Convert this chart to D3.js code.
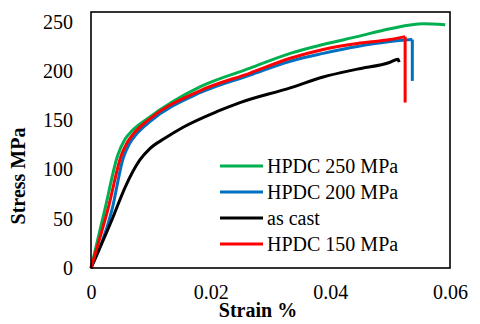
<!DOCTYPE html>
<html>
<head>
<meta charset="utf-8">
<script src="https://cdn.jsdelivr.net/npm/d3@7"></script>
</head>
<body style="margin:0">
<script>
const width = 480, height = 324;
const margin = { top: 12, right: 30, bottom: 56, left: 91 };
const serif = '"Liberation Serif", "Times New Roman", Times, "DejaVu Serif", serif';

// strain, stress pairs
const hpdc250 = [[0,0],[0.0023,59],[0.0045,115],[0.0057,131],[0.0068,139],[0.0095,152],[0.0182,184],[0.0266,203],[0.0333,218],[0.0388,227],[0.0445,235],[0.05,243],[0.0555,248],[0.0592,247]];
const hpdc200 = [[0,0],[0.0035,59],[0.0054,112],[0.0064,126],[0.0076,136],[0.0099,149],[0.0182,178],[0.0266,196],[0.0333,210],[0.0388,218],[0.0445,225],[0.05,230],[0.0537,232],[0.0537,190]];
const asCast = [[0,0],[0.0035,49],[0.0057,82],[0.0082,110],[0.0098,121],[0.0124,132],[0.0154,143],[0.0211,159],[0.0249,168],[0.0333,183],[0.0388,194],[0.0445,202],[0.05,209],[0.0513,212],[0.0515,209]];
const hpdc150 = [[0,0],[0.0028,59],[0.0051,115],[0.0061,128],[0.0072,137],[0.0095,150],[0.0182,180],[0.0266,198],[0.0333,213],[0.0388,222],[0.0445,228],[0.05,232],[0.0525,235],[0.0525,168]];

const seriesNames = ["HPDC 250 MPa", "HPDC 200 MPa", "as cast", "HPDC 150 MPa"];
const seriesData = [hpdc250, hpdc200, asCast, hpdc150];
const colors = ["#00B050", "#0070C0", "#000000", "#FF0000"];

const xTicks = [0, 0.02, 0.04, 0.06];
const yTicks = [0, 50, 100, 150, 200, 250];

const svg = d3.select("body").append("svg")
  .attr("width", width)
  .attr("height", height)
  .style("font-family", serif);

const x = d3.scaleLinear().domain([0, 0.06]).range([margin.left, width - margin.right]);
const y = d3.scaleLinear().domain([0, 260]).range([height - margin.bottom, margin.top]);

// axes, no tick marks
const xAxis = svg.append("g")
  .attr("transform", `translate(0, ${height - margin.bottom})`)
  .call(d3.axisBottom(x).tickValues(xTicks).tickSize(0).tickPadding(17).tickFormat(d => d === 0 ? "0" : d3.format(".2f")(d)));
xAxis.select(".domain").remove();

const yAxis = svg.append("g")
  .attr("transform", `translate(${margin.left}, 0)`)
  .call(d3.axisLeft(y).tickValues(yTicks).tickSize(0).tickPadding(18));
yAxis.select(".domain").remove();

svg.selectAll("g").attr("font-family", null);
svg.selectAll(".tick text")
  .style("font-size", "20px")
  .style("font-weight", "400")
  .attr("fill", "#000");

// legend
seriesNames.forEach((name, i) => {
  const cy = 166 + i * 26;
  svg.append("line")
    .attr("x1", 220).attr("x2", 263)
    .attr("y1", cy).attr("y2", cy)
    .attr("stroke", colors[i])
    .attr("stroke-width", 3);
  svg.append("text")
    .attr("x", 267)
    .attr("y", cy + 7)
    .style("font-size", "20px")
    .style("font-weight", "400")
    .text(name);
});

// axis titles
svg.append("text")
  .attr("x", 258)
  .attr("y", 317)
  .attr("text-anchor", "middle")
  .style("font-size", "20px")
  .style("font-weight", "bold")
  .text("Strain %");

svg.append("text")
  .attr("transform", "translate(25, 176) rotate(-90)")
  .attr("text-anchor", "middle")
  .style("font-size", "20px")
  .style("font-weight", "bold")
  .text("Stress MPa");

// lines: smooth curve up to fracture, then the straight drop
const curve = d3.line()
  .curve(d3.curveMonotoneX)
  .x(d => x(d[0]))
  .y(d => y(d[1]));
const straight = d3.line()
  .x(d => x(d[0]))
  .y(d => y(d[1]));

seriesData.forEach((s, i) => {
  const hasDrop = s[s.length - 1][0] === s[s.length - 2][0];
  const body = hasDrop ? s.slice(0, -1) : s;
  svg.append("path")
    .datum(body)
    .attr("fill", "none")
    .attr("stroke", colors[i])
    .attr("stroke-width", 3)
    .attr("stroke-linejoin", "round")
    .attr("d", curve);
  if (hasDrop) {
    svg.append("path")
      .datum(s.slice(-2))
      .attr("fill", "none")
      .attr("stroke", colors[i])
      .attr("stroke-width", 3)
      .attr("d", straight);
  }
});

// plot frame
svg.append("rect")
  .attr("x", margin.left)
  .attr("y", margin.top)
  .attr("width", width - margin.left - margin.right)
  .attr("height", height - margin.top - margin.bottom)
  .attr("fill", "none")
  .attr("stroke", "#000")
  .attr("stroke-width", 1.6);

// re-apply the font once the page has settled, in case it was not ready at first layout
const refont = () => svg.selectAll("text").style("font-family", serif);
refont();
requestAnimationFrame(refont);
setTimeout(refont, 30);
</script>
</body>
</html>
